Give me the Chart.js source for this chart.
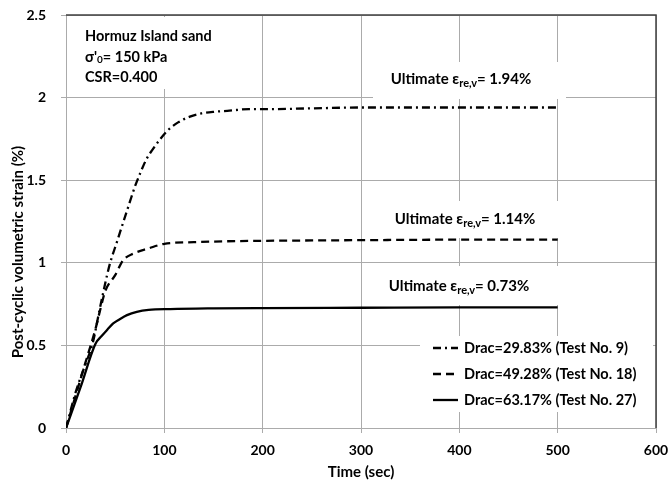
<!DOCTYPE html>
<html><head><meta charset="utf-8">
<script src="https://cdn.jsdelivr.net/npm/chart.js@4/dist/chart.umd.min.js"></script>
<style>html,body{margin:0;padding:0;background:#fff;} #wrap{width:668px;height:486px;position:relative;}</style>
</head><body><div id="wrap"><canvas id="c" width="668" height="486"></canvas></div>
<script>
// ---- data ----
const seriesLabels = ['Drac=29.83% (Test No. 9)', 'Drac=49.28% (Test No. 18)', 'Drac=63.17% (Test No. 27)'];
const time9  = [0, 10, 20, 27, 35, 44, 52, 59, 65, 70, 76, 82, 88, 96, 105, 114, 126, 138, 152, 164, 186, 203, 250, 300, 400, 500];
const strain9 = [0, 0.22, 0.39, 0.51, 0.74, 0.98, 1.13, 1.26, 1.37, 1.46, 1.55, 1.63, 1.685, 1.75, 1.81, 1.85, 1.885, 1.905, 1.915, 1.92, 1.93, 1.93, 1.935, 1.94, 1.94, 1.94];
const time18  = [0, 10, 20, 30, 35, 40, 50, 58, 69, 84, 100, 130, 160, 200, 300, 400, 500];
const strain18 = [0, 0.2, 0.4, 0.6, 0.72, 0.83, 0.925, 1.015, 1.057, 1.087, 1.115, 1.125, 1.13, 1.133, 1.137, 1.14, 1.14];
const time27  = [0, 15, 30, 36, 42, 48, 55, 62, 72, 84, 106, 150, 200, 300, 400, 500];
const strain27 = [0, 0.25, 0.51, 0.555, 0.595, 0.633, 0.66, 0.683, 0.703, 0.715, 0.72, 0.724, 0.726, 0.728, 0.73, 0.73];
const ultimateValues = ['1.94', '1.14', '0.73'];
const infoTitle = 'Hormuz Island sand';
const infoStress = '150 kPa';
const infoCSR = 'CSR=0.400';
const xTitle = 'Time (sec)';
const yTitle = 'Post-cyclic volumetric strain (%)';
const xRange = [0, 600, 100];
const yRange = [0, 2.5, 0.5];

const FONT = 'Lato, "Liberation Sans", sans-serif';
const dashDot = [8, 4, 2, 4];
const dashed = [8, 5];

function pts(xs, ys) { return xs.map((x, i) => ({x: x, y: ys[i]})); }

const datasets = [
  {label: seriesLabels[0], data: pts(time9, strain9), borderDash: dashDot},
  {label: seriesLabels[1], data: pts(time18, strain18), borderDash: dashed},
  {label: seriesLabels[2], data: pts(time27, strain27), borderDash: []}
].map(d => Object.assign({
  borderColor: '#000', backgroundColor: '#000', borderWidth: 2.3,
  pointRadius: 0, fill: false, cubicInterpolationMode: 'monotone', tension: 0.3
}, d));

function drawRich(ctx, parts, cx, cy, align) {
  let total = 0;
  parts.forEach(p => { ctx.font = 'bold ' + p[1] + 'px ' + FONT; total += ctx.measureText(p[0]).width; });
  let x = align === 'center' ? cx - total / 2 : cx;
  ctx.textAlign = 'left'; ctx.textBaseline = 'middle';
  parts.forEach(p => {
    ctx.font = 'bold ' + p[1] + 'px ' + FONT;
    ctx.fillText(p[0], x, cy + p[2]);
    x += ctx.measureText(p[0]).width;
  });
}

const overlay = {
  id: 'overlay',
  beforeDatasetsDraw(chart) {
    const ctx = chart.ctx;
    ctx.save();
    ctx.fillStyle = '#fff';
    [[72, 17, 183, 72], [373, 62, 193, 37], [375, 201, 187, 37], [373, 266, 189, 39], [420, 336, 233, 76]]
      .forEach(r => ctx.fillRect(r[0], r[1], r[2], r[3]));
    ctx.restore();
  },
  afterDraw(chart) {
    const ctx = chart.ctx;
    const a = chart.chartArea;
    ctx.save();
    ctx.strokeStyle = '#404040'; ctx.lineWidth = 1.5;
    ctx.beginPath(); ctx.moveTo(a.left, a.top); ctx.lineTo(a.right, a.top); ctx.lineTo(a.right, a.bottom); ctx.stroke();
    ctx.fillStyle = '#000';
    drawRich(ctx, [[infoTitle, 14.5, 0]], 85, 36, 'left');
    drawRich(ctx, [["\u03c3'", 14.5, 0], ['0', 10, 3], ['= ' + infoStress, 14.5, 0]], 85, 57, 'left');
    drawRich(ctx, [[infoCSR, 14.5, 0]], 85, 77, 'left');
    const centers = [[461, 79], [465, 219], [459, 286]];
    ultimateValues.forEach((v, i) => {
      drawRich(ctx, [['Ultimate \u03b5', 15, 0], ['re,v', 11, 4], ['= ' + v + '%', 15, 0]], centers[i][0], centers[i][1], 'center');
    });
    const rows = [348, 374, 400];
    chart.data.datasets.forEach((d, i) => {
      ctx.strokeStyle = d.borderColor; ctx.lineWidth = d.borderWidth;
      ctx.setLineDash(d.borderDash);
      ctx.beginPath(); ctx.moveTo(433, rows[i]); ctx.lineTo(458, rows[i]); ctx.stroke();
      ctx.setLineDash([]);
      drawRich(ctx, [[d.label, 14.5, 0]], 464, rows[i], 'left');
    });
    ctx.translate(18, 252); ctx.rotate(-Math.PI / 2);
    ctx.font = 'bold 15px ' + FONT; ctx.textAlign = 'center'; ctx.textBaseline = 'middle';
    ctx.fillText(yTitle, 0, 0);
    ctx.restore();
  }
};

const gridColor = '#ababab';
new Chart(document.getElementById('c'), {
  type: 'line',
  data: {datasets: datasets},
  options: {
    responsive: false, animation: false, devicePixelRatio: 1,
    layout: {padding: {top: 15, right: 12, left: 0, bottom: 0}},
    plugins: {legend: {display: false}, tooltip: {enabled: false}},
    scales: {
      x: {
        type: 'linear', min: xRange[0], max: xRange[1],
        ticks: {stepSize: xRange[2], color: '#000', font: {family: FONT, size: 14, weight: 'bold'}, padding: 9, maxRotation: 0},
        grid: {color: gridColor, lineWidth: 1, tickLength: 5, drawTicks: true},
        border: {color: gridColor, width: 1},
        title: {display: true, text: xTitle, color: '#000', font: {family: FONT, size: 15, weight: 'bold'}, padding: {top: 4, bottom: 5}},
        afterFit(s) { s.height = 58; s.paddingLeft = 0; s.paddingRight = 0; }
      },
      y: {
        type: 'linear', min: yRange[0], max: yRange[1],
        ticks: {stepSize: yRange[2], color: '#000', font: {family: FONT, size: 14, weight: 'bold'}, padding: 15,
          callback: v => String(v)},
        grid: {color: gridColor, lineWidth: 1, tickLength: 5, drawTicks: true},
        border: {color: gridColor, width: 1},
        afterFit(s) { s.width = 66; s.paddingTop = 0; s.paddingBottom = 0; }
      }
    }
  },
  plugins: [overlay]
});
</script>
</body></html>
